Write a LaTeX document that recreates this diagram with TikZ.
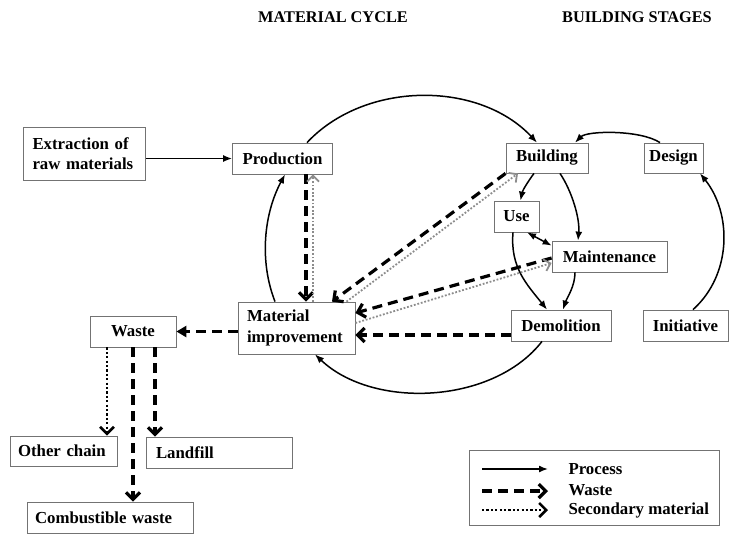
\documentclass[tikz,border=0pt]{standalone}
\usepackage{fontspec}
\setmainfont{Liberation Serif}
\usetikzlibrary{arrows.meta}
\begin{document}
\begin{tikzpicture}[x=1pt,y=-1pt,
  txt/.style={font=\bfseries\fontsize{16.8}{20.5}\selectfont},
  title/.style={font=\bfseries\fontsize{16.3}{19}\selectfont},
  box/.style={txt, draw=black!55, line width=0.8pt, inner sep=0pt, minimum height=31pt},
  lbox/.style={box, align=left},
  process/.style={line width=1.5pt, -{Latex[length=9pt,width=7pt]}},
  twoway/.style={line width=1.5pt, {Latex[length=9pt,width=7pt]}-{Latex[length=9pt,width=7pt]}},
  waste/.style={line width=3.2pt, dash pattern=on 10pt off 6pt, -{Straight Barb[length=7pt,width=14pt]}},
  secondary/.style={line width=1.8pt, draw=black!45, dash pattern=on 1.8pt off 1.8pt, -{Straight Barb[length=6pt,width=12pt]}},
  dotblack/.style={line width=2.6pt, dash pattern=on 2.2pt off 2.2pt, -{Straight Barb[length=7pt,width=14pt]}},
]
\useasboundingbox (0,0) rectangle (735,536);

% headings
\node[title] (t1) at (333,17) {MATERIAL CYCLE};
\node[title] (t2) at (637,17) {BUILDING STAGES};

% material cycle
\node[lbox, text width=104pt, inner xsep=9pt, minimum height=53pt] (extr) at (84.5,153.5) {Extraction of\\raw materials};
\node[box, minimum width=100pt] (prod) at (282.5,158.5) {Production};
\node[lbox, text width=99pt, inner xsep=9pt, minimum height=52pt] (mi) at (296.5,328) {Material\\improvement};
\node[box, minimum width=86pt] (waste) at (133,331.5) {Waste};
\node[lbox, text width=91pt, inner xsep=8pt, minimum height=30pt] (other) at (63.5,451) {Other chain};
\node[lbox, text width=126pt, inner xsep=10pt] (landfill) at (219,452.5) {Landfill};
\node[lbox, text width=150pt, inner xsep=8pt] (comb) at (110,517.5) {Combustible waste};

% building stages
\node[box, minimum width=82pt, minimum height=30pt] (bldg) at (547,158) {Building};
\node[box, minimum width=59pt, minimum height=30pt] (design) at (673.5,158) {Design};
\node[box, minimum width=45pt] (use) at (516.5,216.5) {Use};
\node[box, minimum width=115pt] (maint) at (609.5,256.5) {Maintenance};
\node[box, minimum width=100pt] (demol) at (561,325.5) {Demolition};
\node[box, minimum width=85pt] (init) at (685.5,325.5) {Initiative};

% process flow
\draw[process] (extr.east |- prod.west) -- (prod.west);
\draw[process] ([xshift=24.5pt]prod.north) .. controls +(58,-62) and +(-58,-62) .. ([xshift=-10pt]bldg.north);
\draw[process] ([xshift=-21.5pt]mi.north) .. controls +(-16,-41) and +(-21,39) .. ([xshift=2.5pt]prod.south);
\draw[process] ([xshift=-19pt]demol.south) .. controls +(-49,63) and +(58,55) .. ([xshift=18.5pt]mi.south);
\draw[process] ([xshift=-13.5pt]design.north) .. controls +(-20,-13) and +(12,-12) .. ([xshift=28pt]bldg.north);
\draw[process] ([xshift=7.5pt]init.north) .. controls +(39,-35) and +(32,40) .. ([xshift=26.5pt]design.south);
\draw[process] ([xshift=-13pt]bldg.south) .. controls +(-6,8) and +(2,-10) .. ([xshift=4pt]use.north);
\draw[process] ([xshift=13pt]bldg.south) .. controls +(12,18) and +(2,-22) .. ([xshift=-31.5pt]maint.north);
\draw[twoway] ([xshift=10.5pt]use.south) -- ([yshift=-5pt]maint.north west);
\draw[process] ([xshift=-3.5pt]use.south) .. controls +(-3,35) and +(-20,-25) .. ([xshift=-14pt]demol.north);
\draw[process] ([xshift=-34.5pt]maint.south) .. controls +(0,14) and +(4,-12) .. ([xshift=2pt]demol.north);

% waste flows
\draw[waste] ([xshift=23.5pt]prod.south) -- ([xshift=9.5pt]mi.north);
\draw[waste] (bldg.south west) -- ([xshift=35.5pt]mi.north);
\draw[waste] ([yshift=-1.5pt]maint.west) -- ([yshift=15pt]mi.east);
\coordinate (dw) at ([yshift=-9.5pt]demol.west);
\draw[waste] (dw) -- (mi.east |- dw);
\draw[waste, -{Triangle[length=10pt,width=11pt]}] (mi.west |- waste.east) -- (waste.east);
\coordinate (w2) at (waste.south);
\draw[waste] (w2) -- (w2 |- comb.north);
\coordinate (w3) at ([xshift=22pt]waste.south);
\draw[waste] (w3) -- (w3 |- landfill.north);

% secondary material flows
\draw[secondary] ([xshift=16.5pt]mi.north) -- ([xshift=30.5pt]prod.south);
\draw[secondary] ([xshift=50pt]mi.north) -- ([xshift=-29pt]bldg.south);
\draw[secondary] ([yshift=5pt]mi.east) -- ([yshift=-6.5pt]maint.west);
\coordinate (w1) at ([xshift=-26pt]waste.south);
\draw[dotblack] (w1) -- (w1 |- other.north);

% legend
\node[draw=black!55, line width=0.8pt, minimum width=250pt, minimum height=75pt, inner sep=0pt] (leg) at (594,487.5) {};
\coordinate (la1) at (482,469); \coordinate (la2) at (548,469);
\coordinate (lb1) at (482,491); \coordinate (lb2) at (548,491);
\coordinate (lc1) at (482,510); \coordinate (lc2) at (548,510);
\draw[process] (la1) -- (la2);
\draw[waste] (lb1) -- (lb2);
\draw[dotblack] (lc1) -- (lc2);
\node[txt, anchor=west] (lp) at (565,469) {Process};
\node[txt, anchor=west] (lw) at (565,490) {Waste};
\node[txt, anchor=west] (ls) at (565,510) {Secondary material};
\end{tikzpicture}
\end{document}
